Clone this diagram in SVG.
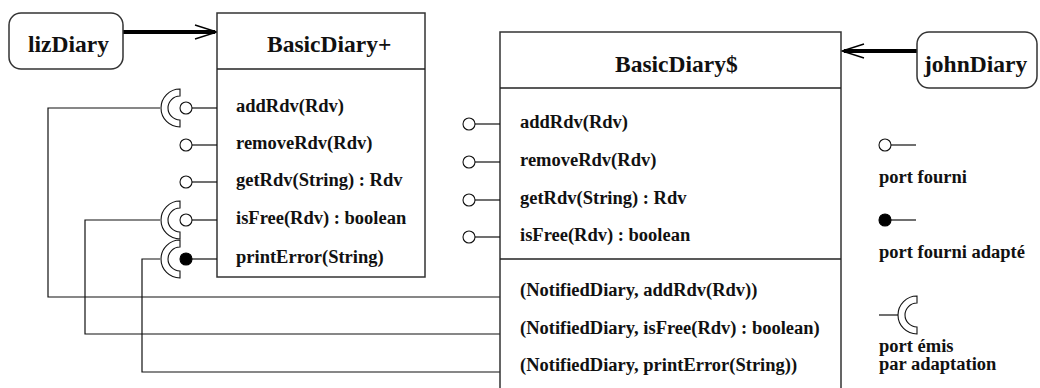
<svg xmlns="http://www.w3.org/2000/svg" width="1040" height="388" viewBox="0 0 1040 388" font-family="'Liberation Serif', 'DejaVu Serif', serif" font-weight="bold">
<style>
  text { font-family: 'Liberation Serif', 'DejaVu Serif', serif; font-weight: 700; fill: #111; }
  .title { font-size: 23.5px; }
  .m { font-size: 18.5px; }
  .box { fill: #fff; stroke: #333; stroke-width: 1.5; }
  .sep { stroke: #222; stroke-width: 1.3; fill: none; }
  .wire { stroke: #111; stroke-width: 1.2; fill: none; }
  .port { fill: #fff; stroke: #111; stroke-width: 1.1; }
  .fport { fill: #000; stroke: #000; stroke-width: 1.1; }
  .sock { fill: #fff; stroke: #111; stroke-width: 1.1; }
  .thick { stroke: #000; stroke-width: 4; fill: none; }
  .head { stroke: #000; stroke-width: 1.4; fill: none; }
</style>
<defs>
  <path id="socket" class="sock" d="M0,-19 A19,19 0 0 0 0,19 L0,12 A12,12 0 0 1 0,-12 Z"/>
</defs>

<g id="connectors">
  <path class="wire" d="M160,108 H48 V297 H500"/>
  <path class="wire" d="M160,220 H85 V334 H500"/>
  <path class="wire" d="M160,259 H142 V372 H500"/>
  <line class="thick" x1="123" y1="32" x2="215" y2="32"/>
  <polyline class="head" points="195,25 217,32 195,39"/>
  <line class="thick" x1="917" y1="51" x2="844" y2="51"/>
  <polyline class="head" points="864,44 842,51 864,58"/>
</g>

<g id="lizDiary">
  <rect class="box" x="9" y="13" width="114" height="56" rx="12"/>
  <text class="title" x="28" y="52">lizDiary</text>
</g>

<g id="johnDiary">
  <rect class="box" x="917" y="32" width="120" height="56" rx="12"/>
  <text class="title" x="924" y="72">johnDiary</text>
</g>

<g id="BasicDiaryPlus">
  <rect class="box" x="217" y="13" width="208" height="264"/>
  <line class="sep" x1="217" y1="69" x2="425" y2="69"/>
  <text class="title" x="267" y="52">BasicDiary+</text>
  <g class="wire">
    <line x1="192" y1="108" x2="217" y2="108"/>
    <line x1="192" y1="145" x2="217" y2="145"/>
    <line x1="192" y1="182" x2="217" y2="182"/>
    <line x1="192" y1="220" x2="217" y2="220"/>
    <line x1="192" y1="259" x2="217" y2="259"/>
  </g>
  <use href="#socket" x="180" y="108"/>
  <use href="#socket" x="180" y="220"/>
  <use href="#socket" x="180" y="259"/>
  <circle class="port" cx="186" cy="108" r="6"/>
  <circle class="port" cx="186" cy="145" r="6"/>
  <circle class="port" cx="186" cy="182" r="6"/>
  <circle class="port" cx="186" cy="220" r="6"/>
  <circle class="fport" cx="186" cy="259" r="6"/>
  <text class="m" x="236" y="112">addRdv(Rdv)</text>
  <text class="m" x="236" y="149">removeRdv(Rdv)</text>
  <text class="m" x="236" y="186">getRdv(String) : Rdv</text>
  <text class="m" x="236" y="224">isFree(Rdv) : boolean</text>
  <text class="m" x="236" y="263">printError(String)</text>
</g>

<g id="BasicDiaryDollar">
  <path class="box" d="M500,392 V32 H841 V392"/>
  <line class="sep" x1="500" y1="88" x2="841" y2="88"/>
  <line class="sep" x1="500" y1="259" x2="841" y2="259"/>
  <text class="title" x="615" y="72">BasicDiary$</text>
  <g class="wire">
    <line x1="475" y1="124" x2="500" y2="124"/>
    <line x1="475" y1="162" x2="500" y2="162"/>
    <line x1="475" y1="200" x2="500" y2="200"/>
    <line x1="475" y1="237" x2="500" y2="237"/>
  </g>
  <circle class="port" cx="469" cy="124" r="6"/>
  <circle class="port" cx="469" cy="162" r="6"/>
  <circle class="port" cx="469" cy="200" r="6"/>
  <circle class="port" cx="469" cy="237" r="6"/>
  <text class="m" x="520" y="128">addRdv(Rdv)</text>
  <text class="m" x="520" y="166">removeRdv(Rdv)</text>
  <text class="m" x="520" y="204">getRdv(String) : Rdv</text>
  <text class="m" x="520" y="241">isFree(Rdv) : boolean</text>
  <text class="m" x="520" y="296">(NotifiedDiary, addRdv(Rdv))</text>
  <text class="m" x="520" y="334">(NotifiedDiary, isFree(Rdv) : boolean)</text>
  <text class="m" x="520" y="371">(NotifiedDiary, printError(String))</text>
</g>

<g id="legend">
  <line class="wire" x1="891" y1="145" x2="916" y2="145"/>
  <circle class="port" cx="885" cy="145" r="6"/>
  <text class="m" x="879" y="183">port fourni</text>
  <line class="wire" x1="891" y1="220" x2="916" y2="220"/>
  <circle class="fport" cx="885" cy="220" r="6"/>
  <text class="m" x="879" y="258">port fourni adapté</text>
  <line class="wire" x1="879" y1="315" x2="898" y2="315"/>
  <use href="#socket" x="917" y="315"/>
  <text class="m" x="879" y="352">port émis</text>
  <text class="m" x="879" y="370">par adaptation</text>
</g>
</svg>
